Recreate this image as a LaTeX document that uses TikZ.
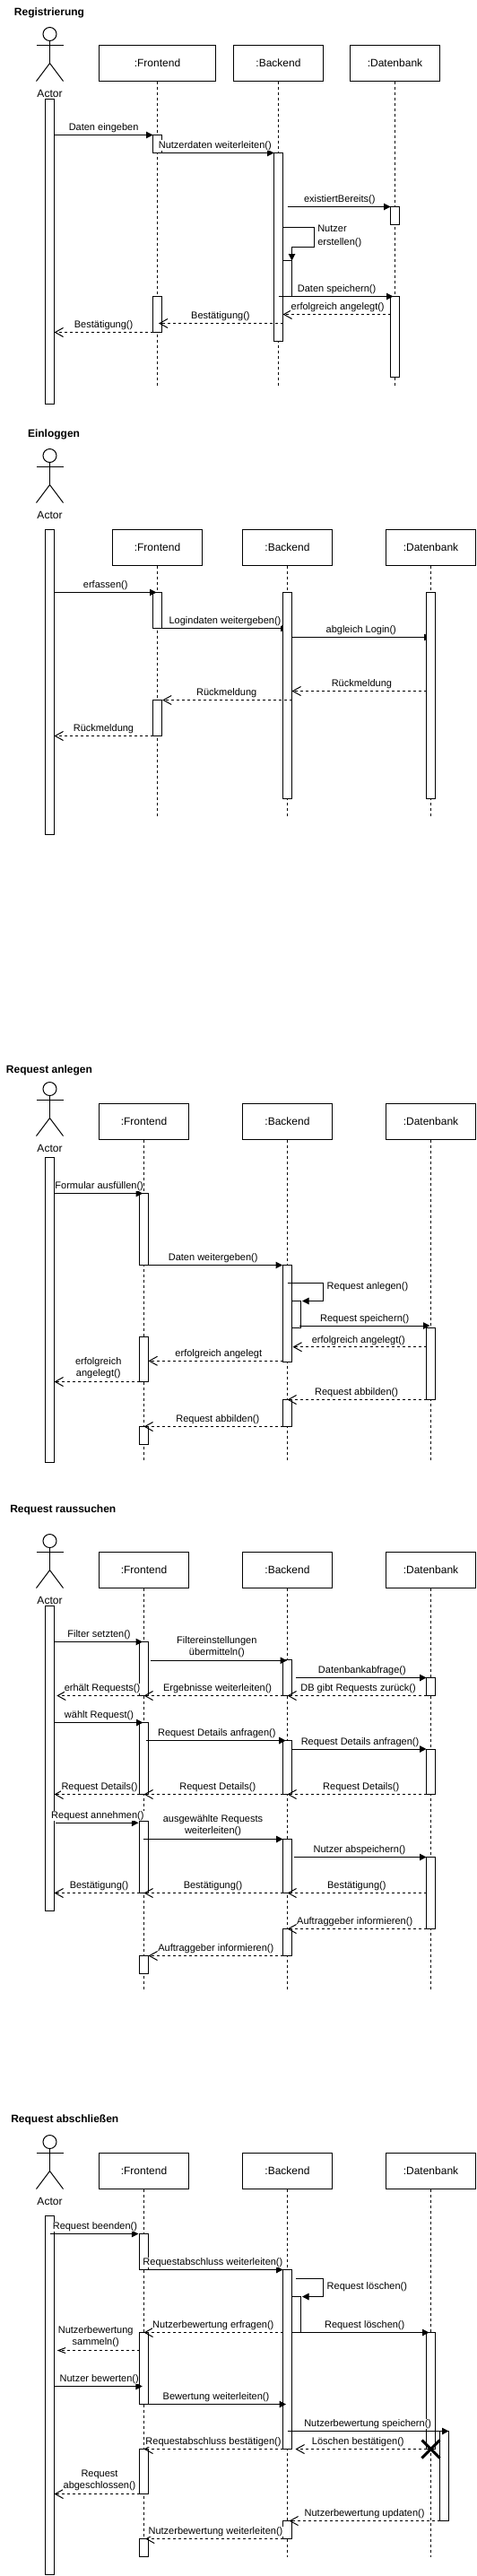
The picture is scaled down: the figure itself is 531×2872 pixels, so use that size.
\documentclass[tikz,border=0pt]{standalone}
\usepackage{fontspec}
\setmainfont{Liberation Sans}
\usetikzlibrary{arrows.meta,backgrounds}
\newcount\labno
\tikzset{
  every picture/.style={line width=1pt},
  lifebox/.style={draw,outer sep=0pt,minimum height=40pt,minimum width=100pt,inner sep=0pt,font=\fontsize{12}{14}\selectfont},
  widebox/.style={lifebox,minimum width=130pt},
  actbar/.style={draw,fill=white,outer sep=0pt,inner sep=0pt,minimum width=10pt,anchor=north},
  lifeline/.style={dash pattern=on 3pt off 3pt},
  sync/.style={-{Triangle[length=7.5pt,width=7.5pt]}},
  ret/.style={dash pattern=on 3pt off 3pt,-{Straight Barb[length=9pt,width=10pt]}},
  retsmall/.style={dash pattern=on 3pt off 3pt,-{Straight Barb[length=8pt,width=6pt]}},
  msglabel/.style={fill=white,inner sep=0.3pt,outer sep=0pt,text height=8.5pt,text depth=2.5pt,font=\fontsize{11}{13}\selectfont},
  msgtwo/.style={fill=white,inner sep=0.3pt,outer sep=0pt,align=center,font=\fontsize{11}{13}\selectfont},
  msgleft/.style={fill=white,inner sep=0.3pt,outer sep=0pt,anchor=west,align=left,font=\fontsize{11}{14.3}\selectfont},
  titletext/.style={inner sep=0pt,text height=9pt,text depth=3pt,font=\fontsize{12}{14}\selectfont\bfseries},
  actorname/.style={inner sep=0pt,text height=9pt,text depth=1pt,font=\fontsize{12}{14}\selectfont},
  actorhead/.style={draw,circle,fill=white,outer sep=0pt,inner sep=0pt,minimum size=15pt},
  xmark/.style={line width=3pt},
}
% name, top of the stick figure
\newcommand\stickman[2]{%
  \node[actorhead] (#1head) at (55.5,#2+7.5) {};
  \coordinate (#1hip) at (55.5,#2+40);
  \coordinate (#1armL) at (40.5,#2+20);
  \coordinate (#1armR) at (70.5,#2+20);
  \coordinate (#1legL) at (40.5,#2+60);
  \coordinate (#1legR) at (70.5,#2+60);
  \draw (#1head.south) -- (#1hip);
  \draw (#1armL) -- (#1armR);
  \draw (#1legL) -- (#1hip) -- (#1legR);
  \node[actorname] (#1name) at (55.5,#2+73.5) {Actor};
}
% name, centre x, top y, bottom y
\newcommand\bargraph[4]{\node[actbar,minimum height={(#4-#3)*1pt}] (#1) at (#2,#3) {};}
\newcommand\msglab[3]{\global\advance\labno 1 \node[msglabel] (lab\the\labno) at (#1,#2) {#3};}
\newcommand\msgtwolab[3]{\global\advance\labno 1 \node[msgtwo] (lab\the\labno) at (#1,#2) {#3};}
\newcommand\msgleftlab[3]{\global\advance\labno 1 \node[msgleft] (lab\the\labno) at (#1,#2) {#3};}
\begin{document}
\begin{tikzpicture}[x=1pt,y=-1pt]
\begin{scope}[on background layer]
  \path[use as bounding box,fill=white] (0,0) rectangle (531,2872);
\end{scope}

%% ---------------- Registrierung ----------------
\node[titletext] (Rtitle) at (55,14) {Registrierung};
\stickman{Rm}{30.5}
\node[widebox] (RFbox) at (175.5,70.5) {:Frontend};
\node[lifebox] (RBbox) at (310.5,70.5) {:Backend};
\node[lifebox] (RDbox) at (440.5,70.5) {:Datenbank};
\coordinate (RFend) at (175.5,429.5);
\coordinate (RBend) at (310.5,429.5);
\coordinate (RDend) at (440.5,429.5);
\begin{scope}[on background layer]
  \draw[lifeline] (RFbox.south) -- (RFend);
  \draw[lifeline] (RBbox.south) -- (RBend);
  \draw[lifeline] (RDbox.south) -- (RDend);
\end{scope}
\bargraph{RA}{55.5}{110.5}{450.5}
\bargraph{RF1}{175.5}{150.5}{170.5}
\bargraph{RB1}{310.5}{170.5}{380.5}
\bargraph{RD1}{440.5}{230.5}{250.5}
\bargraph{RBs}{320.5}{290.5}{330.5}
\bargraph{RD2}{440.5}{330.5}{420.5}
\bargraph{RF2}{175.5}{330.5}{370.5}
\coordinate (Rexist) at (320.5,230.5);
\coordinate (Rloop1) at (350.5,253.5);
\coordinate (Rloop2) at (350.5,275.5);
\coordinate (Rloop3) at (325.5,275.5);
\coordinate (Rloop0) at (315.5,253.5);
\coordinate (Rack) at (445.5,350.5);
\coordinate (Rack2) at (315.5,350.5);
\coordinate (Rcon) at (315.5,360.5);
\draw[sync] (RA.east |- RF1.north) -- (RF1.north west);
\draw[sync] (RF1.south west) -- (RB1.north west);
\draw[sync] (Rexist) -- (RD1.north west);
\draw[sync] (Rloop0) -- (Rloop1) -- (Rloop2) -- (Rloop3) -- (RBs.north east);
\draw[sync] (RB1.center |- RD2.north) -- ([xshift=3pt]RD2.north west);
\draw[ret] (RD2.west |- Rack) -- (RB1.east |- Rack);
\draw[ret] (Rcon) -- ([xshift=-3.5pt]RF1.east |- Rcon);
\draw[ret] (RF2.south west) -- (RA.east |- RF2.south);
\msglab{115.6}{142}{Daten eingeben}
\msglab{239.8}{162}{Nutzerdaten weiterleiten()}
\msglab{378.8}{222}{existiertBereits()}
\msgleftlab{354}{263.5}{Nutzer\\erstellen()}
\msglab{375.6}{322.3}{Daten speichern()}
\msglab{376.7}{342}{erfolgreich angelegt()}
\msglab{245.9}{352}{Bestätigung()}
\msglab{115.6}{362}{Bestätigung()}

%% ---------------- Einloggen ----------------
\node[titletext] (Etitle) at (60,484) {Einloggen};
\stickman{Em}{500.5}
\node[lifebox] (EFbox) at (175.5,610.5) {:Frontend};
\node[lifebox] (EBbox) at (320.5,610.5) {:Backend};
\node[lifebox] (EDbox) at (480.5,610.5) {:Datenbank};
\coordinate (EFend) at (175.5,909.5);
\coordinate (EBend) at (320.5,909.5);
\coordinate (EDend) at (480.5,909.5);
\coordinate (Eab) at (325.5,710.5);
\begin{scope}[on background layer]
  \draw[lifeline] (EFbox.south) -- (EFend);
  \draw[lifeline] (EBbox.south) -- (EBend);
  \draw[lifeline] (EDbox.south) -- (EDend);
\end{scope}
\bargraph{EA}{55.5}{590.5}{930.5}
\bargraph{EF1}{175.5}{660.5}{700.5}
\bargraph{EB1}{320.5}{660.5}{890.5}
\bargraph{ED1}{480.5}{660.5}{890.5}
\bargraph{EF2}{175.5}{780.5}{820.5}
\begin{scope}[on background layer]
  \draw[sync] (EF1.south east) -- (EB1.center |- EF1.south);
  \draw[sync] (Eab) -- (ED1.center |- Eab);
\end{scope}
\coordinate (Erm) at (475.5,770.5);
\coordinate (Erm2) at (325.5,770.5);
\draw[sync] (EA.east |- EF1.north) -- ([xshift=-1pt]EF1.north);
\draw[ret] (Erm) -- (Erm2);
\draw[ret] (EB1.east |- EF2.north) -- ([xshift=0.7pt]EF2.north east);
\draw[ret] (EF2.south west) -- (EA.east |- EF2.south);
\msglab{117.7}{652.7}{erfassen()}
\msglab{251}{692.3}{Logindaten weitergeben()}
\msglab{402.8}{702.3}{abgleich Login()}
\msglab{403.4}{762.3}{Rückmeldung}
\msglab{252.7}{772.3}{Rückmeldung}
\msglab{115.5}{812.3}{Rückmeldung}

%% ---------------- Request anlegen ----------------
\node[titletext] (Ntitle) at (55,1193.7) {Request anlegen};
\stickman{Nm}{1206.5}
\node[lifebox] (NFbox) at (160.5,1250.5) {:Frontend};
\node[lifebox] (NBbox) at (320.5,1250.5) {:Backend};
\node[lifebox] (NDbox) at (480.5,1250.5) {:Datenbank};
\coordinate (NFend) at (160.5,1627.5);
\coordinate (NBend) at (320.5,1627.5);
\coordinate (NDend) at (480.5,1627.5);
\begin{scope}[on background layer]
  \draw[lifeline] (NFbox.south) -- (NFend);
  \draw[lifeline] (NBbox.south) -- (NBend);
  \draw[lifeline] (NDbox.south) -- (NDend);
\end{scope}
\bargraph{NA}{55.5}{1290.5}{1630.5}
\bargraph{NF1}{160.5}{1330.5}{1410.5}
\bargraph{NB1}{320.5}{1410.5}{1518.5}
\bargraph{NBs}{330.5}{1450.5}{1480.5}
\bargraph{ND1}{480.5}{1480.5}{1560.5}
\bargraph{NF2}{160.5}{1490.5}{1540.5}
\bargraph{NB2}{320.5}{1560.5}{1590.5}
\bargraph{NF3}{160.5}{1590.5}{1610.5}
\coordinate (Nl0) at (320.5,1430.5);
\coordinate (Nl1) at (360.5,1430.5);
\coordinate (Nl2) at (360.5,1450.5);
\coordinate (Nsave) at (333.5,1478);
\coordinate (Nsave2) at (479.5,1478);
\coordinate (Nok) at (475.5,1501.7);
\coordinate (Nok2) at (315.5,1517.3);
\draw[sync] (NA.east |- NF1.north) -- ([xshift=-1.3pt]NF1.north);
\draw[sync] (NF1.south east) -- ([xshift=-0.5pt]NB1.north west);
\draw[sync] (Nl0) -- (Nl1) -- (Nl2) -- ([xshift=1.5pt]NBs.north east);
\draw[sync] (Nsave) -- (Nsave2);
\draw[ret] (Nok) -- ([xshift=1pt]NB1.east |- Nok);
\draw[ret] (Nok2) -- (NF2.east |- Nok2);
\draw[ret] (NF2.south west) -- (NA.east |- NF2.south);
\draw[ret] (ND1.south west) -- (NB2.north);
\draw[ret] (NB2.south west) -- (NF3.north);
\msglab{110.7}{1322.3}{Formular ausfüllen()}
\msglab{237.7}{1402}{Daten weitergeben()}
\msgleftlab{364.4}{1434.3}{Request anlegen()}
\msglab{406.7}{1470.3}{Request speichern()}
\msglab{399.8}{1494.3}{erfolgreich angelegt()}
\msglab{243.8}{1509.3}{erfolgreich angelegt}
\msgtwolab{109.7}{1525.5}{erfolgreich\\angelegt()}
\msglab{397.6}{1552.3}{Request abbilden()}
\msglab{242.8}{1582.3}{Request abbilden()}

%% ---------------- Request raussuchen ----------------
\node[titletext] (Stitle) at (70.3,1683.7) {Request raussuchen};
\stickman{Sm}{1710.5}
\node[lifebox] (SFbox) at (160.5,1750.5) {:Frontend};
\node[lifebox] (SBbox) at (320.5,1750.5) {:Backend};
\node[lifebox] (SDbox) at (480.5,1750.5) {:Datenbank};
\coordinate (SFend) at (160.5,2217.5);
\coordinate (SBend) at (320.5,2217.5);
\coordinate (SDend) at (480.5,2217.5);
\begin{scope}[on background layer]
  \draw[lifeline] (SFbox.south) -- (SFend);
  \draw[lifeline] (SBbox.south) -- (SBend);
  \draw[lifeline] (SDbox.south) -- (SDend);
\end{scope}
\bargraph{SA}{55.5}{1790.5}{2130.5}
\bargraph{SF1}{160.5}{1830.5}{1890.5}
\bargraph{SB1}{320.5}{1850.5}{1890.5}
\bargraph{SD1}{480.5}{1870.5}{1890.5}
\bargraph{SF2}{160.5}{1920.5}{2000.5}
\bargraph{SB2}{320.5}{1940.5}{2000.5}
\bargraph{SD2}{480.5}{1950.5}{2000.5}
\bargraph{SF3}{160.5}{2030.5}{2110.5}
\bargraph{SB3}{320.5}{2050.5}{2110.5}
\bargraph{SD3}{480.5}{2070.5}{2150.5}
\bargraph{SB4}{320.5}{2150.5}{2180.5}
\bargraph{SF4}{160.5}{2180.5}{2200.5}
\coordinate (Sf0) at (168.3,1851.3);
\coordinate (Sf1) at (320,1851.3);
\coordinate (Sq0) at (330.2,1870.5);
\coordinate (Sd0) at (163.2,1940.5);
\coordinate (Sd20) at (325.5,1950);
\coordinate (Sd21) at (475.5,1950);
\coordinate (Sa0) at (62,2032.3);
\coordinate (Sa1) at (154.4,2032.3);
\coordinate (Sw0) at (159.5,2050.5);
\coordinate (Sn0) at (328,2070.5);
\coordinate (Sc0) at (475.5,2110.5);
\draw[sync] (SA.east |- SF1.north) -- ([xshift=-1.5pt]SF1.north);
\draw[sync] (Sf0) -- (Sf1);
\draw[sync] (Sq0) -- (SD1.north west);
\draw[ret] (SD1.south west) -- (SB1.center |- SD1.south);
\draw[ret] (SB1.south west) -- (SF1.center |- SB1.south);
\draw[ret] (SF1.south west) -- ([xshift=2.8pt]SA.east |- SF1.south);
\draw[sync] (SA.east |- SF2.north) -- ([xshift=-1pt]SF2.north);
\draw[sync] (Sd0) -- ([xshift=-1.8pt]SB2.north);
\draw[sync] (Sd20) -- (Sd21);
\draw[ret] (SD2.south west) -- (SB2.center |- SD2.south);
\draw[ret] (SB2.south west) -- (SF2.center |- SB2.south);
\draw[ret] (SF2.south west) -- (SA.east |- SF2.south);
\draw[sync] (Sa0) -- (Sa1);
\draw[sync] (Sw0) -- (SB3.north west);
\draw[sync] (Sn0) -- (SD3.north west);
\draw[ret] (Sc0) -- (SB3.center |- Sc0);
\draw[ret] (SB3.south west) -- (SF3.center |- SB3.south);
\draw[ret] (SF3.south west) -- (SA.east |- SF3.south);
\draw[ret] (SD3.south west) -- (SB4.north);
\draw[ret] (SB4.south west) -- (SF4.north east);
\msglab{110.5}{1822.3}{Filter setzten()}
\msgtwolab{241.8}{1836.5}{Filtereinstellungen\\übermitteln()}
\msglab{403.9}{1862.3}{Datenbankabfrage()}
\msglab{399.6}{1882.3}{DB gibt Requests zurück()}
\msglab{242.6}{1882.3}{Ergebnisse weiterleiten()}
\msglab{114}{1882.3}{erhält Requests()}
\msglab{110.5}{1912.3}{wählt Request()}
\msglab{241.8}{1932.3}{Request Details anfragen()}
\msglab{401.5}{1942.3}{Request Details anfragen()}
\msglab{402.7}{1992.3}{Request Details()}
\msglab{242.8}{1992.3}{Request Details()}
\msglab{111}{1992.3}{Request Details()}
\msglab{108.9}{2024.3}{Request annehmen()}
\msgtwolab{237.5}{2035.5}{ausgewählte Requests\\weiterleiten()}
\msglab{401}{2062.3}{Nutzer abspeichern()}
\msglab{397.8}{2102.3}{Bestätigung()}
\msglab{237.5}{2102.3}{Bestätigung()}
\msglab{110.5}{2102.3}{Bestätigung()}
\msglab{395.7}{2142.3}{Auftraggeber informieren()}
\msglab{240.8}{2172.3}{Auftraggeber informieren()}

%% ---------------- Request abschließen ----------------
\node[titletext] (Ctitle) at (72.3,2363.7) {Request abschließen};
\stickman{Cm}{2380.5}
\node[lifebox] (CFbox) at (160.5,2420.5) {:Frontend};
\node[lifebox] (CBbox) at (320.5,2420.5) {:Backend};
\node[lifebox] (CDbox) at (480.5,2420.5) {:Datenbank};
\coordinate (CFend) at (160.5,2850.5);
\coordinate (CBend) at (320.5,2850.5);
\coordinate (CDend) at (480.5,2850.5);
\begin{scope}[on background layer]
  \draw[lifeline] (CFbox.south) -- (CFend);
  \draw[lifeline] (CBbox.south) -- (CBend);
  \draw[lifeline] (CDbox.south) -- (CDend);
\end{scope}
\bargraph{CA}{55.5}{2470.5}{2870.5}
\bargraph{CF1}{160.5}{2490.5}{2530.5}
\bargraph{CB1}{320.5}{2530.5}{2730.5}
\bargraph{CBs}{330.5}{2560.5}{2600.5}
\bargraph{CD1}{480.5}{2600.5}{2730.5}
\bargraph{CF2}{160.5}{2600.5}{2680.5}
\bargraph{CD2}{495.5}{2710.5}{2810.5}
\bargraph{CF3}{160.5}{2730.5}{2780.5}
\bargraph{CB2}{320.5}{2810.5}{2830.5}
\bargraph{CF4}{160.5}{2830.5}{2850.5}
\coordinate (Cb0) at (55.5,2490.5);
\coordinate (Cb1) at (154.4,2490.5);
\coordinate (Cl0) at (330.2,2540.5);
\coordinate (Cl1) at (360.5,2540.5);
\coordinate (Cl2) at (360.5,2560.5);
\coordinate (Cdel0) at (325.5,2600.5);
\coordinate (Cdel1) at (478.5,2600.5);
\coordinate (Ccol0) at (155.5,2620.5);
\coordinate (Cbew0) at (60.5,2660.5);
\coordinate (Csp0) at (320.5,2710.5);
\coordinate (Cx) at (480.5,2730.5);
\draw[sync] (Cb0) -- (Cb1);
\draw[sync] (CF1.south west) -- (CB1.north west);
\draw[sync] (Cl0) -- (Cl1) -- (Cl2) -- ([xshift=1.5pt]CBs.north east);
\draw[sync] (Cdel0) -- (Cdel1);
\draw[ret] (CB1.west |- CF2.north) -- (CF2.north);
\draw[retsmall] (Ccol0) -- ([xshift=3.2pt]CA.east |- Ccol0);
\draw[sync] (Cbew0) -- ([xshift=-1.7pt]CF2.center |- Cbew0);
\draw[sync] (CF2.south east) -- ([xshift=-1.5pt]CB1.center |- CF2.south);
\draw[sync] (Csp0) -- (CD2.north east);
\draw[ret] (CD1.south west) -- ([xshift=4pt]CB1.east |- CD1.south);
\draw[ret] (CB1.south west) -- (CF3.north);
\draw[ret] (CF3.south west) -- (CA.east |- CF3.south);
\draw[ret] (CD2.south west) -- ([xshift=2pt]CB2.north);
\draw[ret] (CB2.south west) -- ([xshift=1.7pt]CF4.north);
\draw[xmark] ([shift={(-10,-10)}]Cx) -- ([shift={(10,10)}]Cx);
\draw[xmark] ([shift={(-10,10)}]Cx) -- ([shift={(10,-10)}]Cx);
\msglab{105.9}{2482.3}{Request beenden()}
\msglab{237.4}{2522.3}{Requestabschluss weiterleiten()}
\msgleftlab{364.4}{2549.3}{Request löschen()}
\msglab{406.7}{2592.3}{Request löschen()}
\msglab{237.8}{2592.3}{Nutzerbewertung erfragen()}
\msgtwolab{106.7}{2605.5}{Nutzerbewertung\\sammeln()}
\msglab{110.7}{2652.3}{Nutzer bewerten()}
\msglab{241}{2672.3}{Bewertung weiterleiten()}
\msglab{410.2}{2702.3}{Nutzerbewertung speichern()}
\msglab{399.3}{2722.3}{Löschen bestätigen()}
\msglab{238}{2722.3}{Requestabschluss bestätigen()}
\msgtwolab{111}{2765.5}{Request\\abgeschlossen()}
\msglab{406.6}{2802.3}{Nutzerbewertung updaten()}
\msglab{240.5}{2822.3}{Nutzerbewertung weiterleiten()}
\end{tikzpicture}
\end{document}
